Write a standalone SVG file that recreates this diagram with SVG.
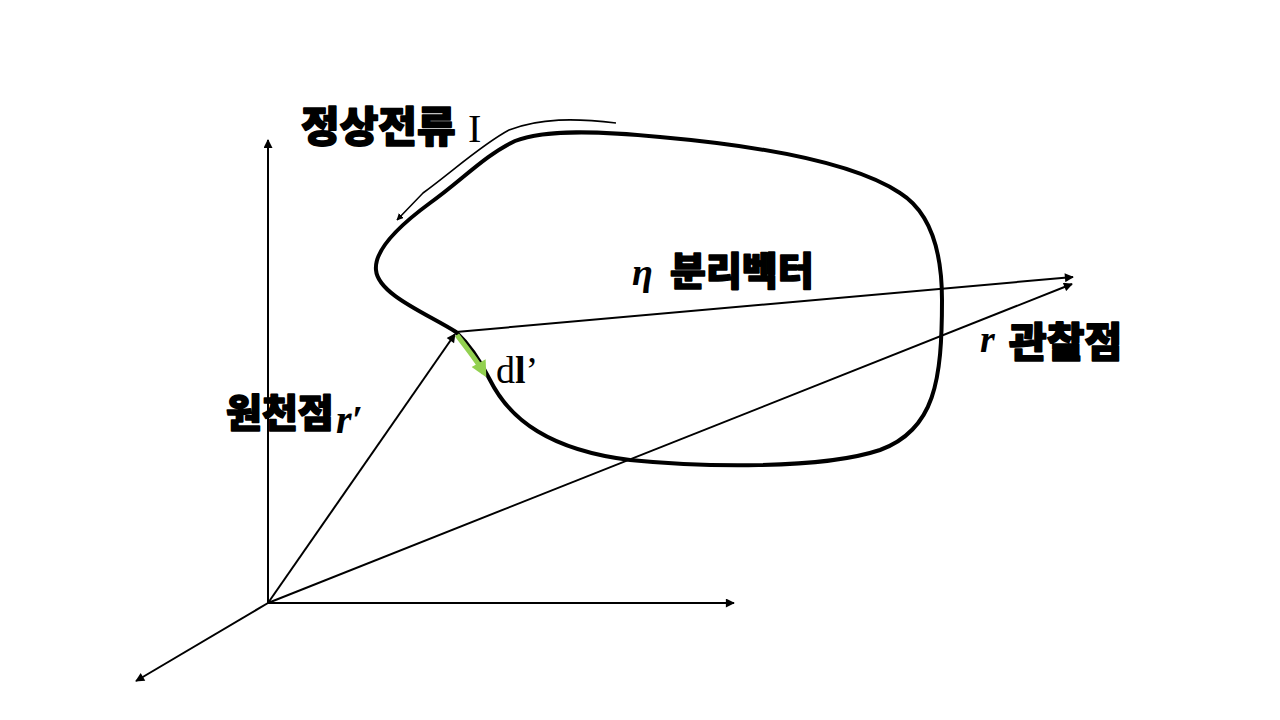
<svg xmlns="http://www.w3.org/2000/svg" width="1280" height="720" viewBox="0 0 1280 720">
<style>
.ax{stroke:#000;stroke-width:2;fill:none}
.loop{stroke:#000;stroke-width:4;fill:none;stroke-linejoin:round}
.kr{font-family:"Noto Sans CJK KR","Noto Sans",sans-serif;font-weight:900;fill:#000;stroke:#000;stroke-width:1.6;stroke-linejoin:round}
.sf{font-family:"Liberation Serif",serif;fill:#000}
</style>
<defs>
<marker id="ah" viewBox="0 0 10 10" refX="9" refY="5" markerWidth="7" markerHeight="7" orient="auto" markerUnits="userSpaceOnUse">
<path d="M0,0 L10,5 L0,10 Z" fill="#000"/>
</marker>
<marker id="ahs" viewBox="0 0 10 10" refX="9" refY="5" markerWidth="11" markerHeight="9" orient="auto" markerUnits="userSpaceOnUse">
<path d="M0,0 L10,5 L0,10 Z" fill="#000"/>
</marker>
<marker id="ag" viewBox="0 0 10 10" refX="7" refY="5" markerWidth="17" markerHeight="16" orient="auto" markerUnits="userSpaceOnUse">
<path d="M0,0 L10,5 L0,10 Z" fill="#92D050"/>
</marker>
</defs>
<rect width="1280" height="720" fill="#fff"/>
<g id="loop">
<path class="loop" d="M456,332 C430,315 378,295 376,270 C374,250 400,225 430,203 C460,182 485,155 515,141 C545,129 600,131 660,137 C750,145 850,160 900,193 C935,215 942,260 942,300 C942,380 935,430 880,450 C820,470 700,467 630,460 C550,450 510,420 490,380 C480,360 470,345 456,332 Z"/>
</g>
<g id="connectors">
<line class="ax" x1="268" y1="603" x2="268" y2="140" marker-end="url(#ahs)"/>
<line class="ax" x1="268" y1="603" x2="734" y2="603" marker-end="url(#ahs)"/>
<line class="ax" x1="268" y1="603" x2="136" y2="681" marker-end="url(#ahs)"/>
<line class="ax" x1="268" y1="603" x2="455" y2="334" marker-end="url(#ahs)"/>
<line class="ax" x1="268" y1="603" x2="1072" y2="284" marker-end="url(#ahs)"/>
<line class="ax" x1="456" y1="332" x2="1073" y2="277" marker-end="url(#ahs)"/>
<path class="ax" style="stroke-width:1.6" d="M616,123 C575,118 540,118 509,130 C481,145 452,172 423,193 L397,220" marker-end="url(#ah)"/>
<path d="M457,335 C468,350 478,362 484,373" stroke="#92D050" stroke-width="5" fill="none" marker-end="url(#ag)"/>
</g>
<g id="labels">
<text class="kr" x="301" y="142" font-size="42">정상전류</text>
<text class="sf" x="468" y="142" font-size="40">I</text>
<text class="sf" x="632" y="285" font-size="38" font-style="italic" font-weight="bold">η</text>
<text class="kr" x="670" y="285" font-size="39">분리벡터</text>
<text class="sf" x="980" y="352" font-size="38" font-style="italic" font-weight="bold">r</text>
<text class="kr" x="1009" y="357" font-size="41">관찰점</text>
<text class="kr" x="226" y="427" font-size="39">원천점</text>
<text class="sf" x="336" y="433" font-size="40" font-style="italic" font-weight="bold">r′</text>
<text class="sf" x="496" y="383" font-size="38">d<tspan font-weight="bold">l</tspan>’</text>
</g>
</svg>
